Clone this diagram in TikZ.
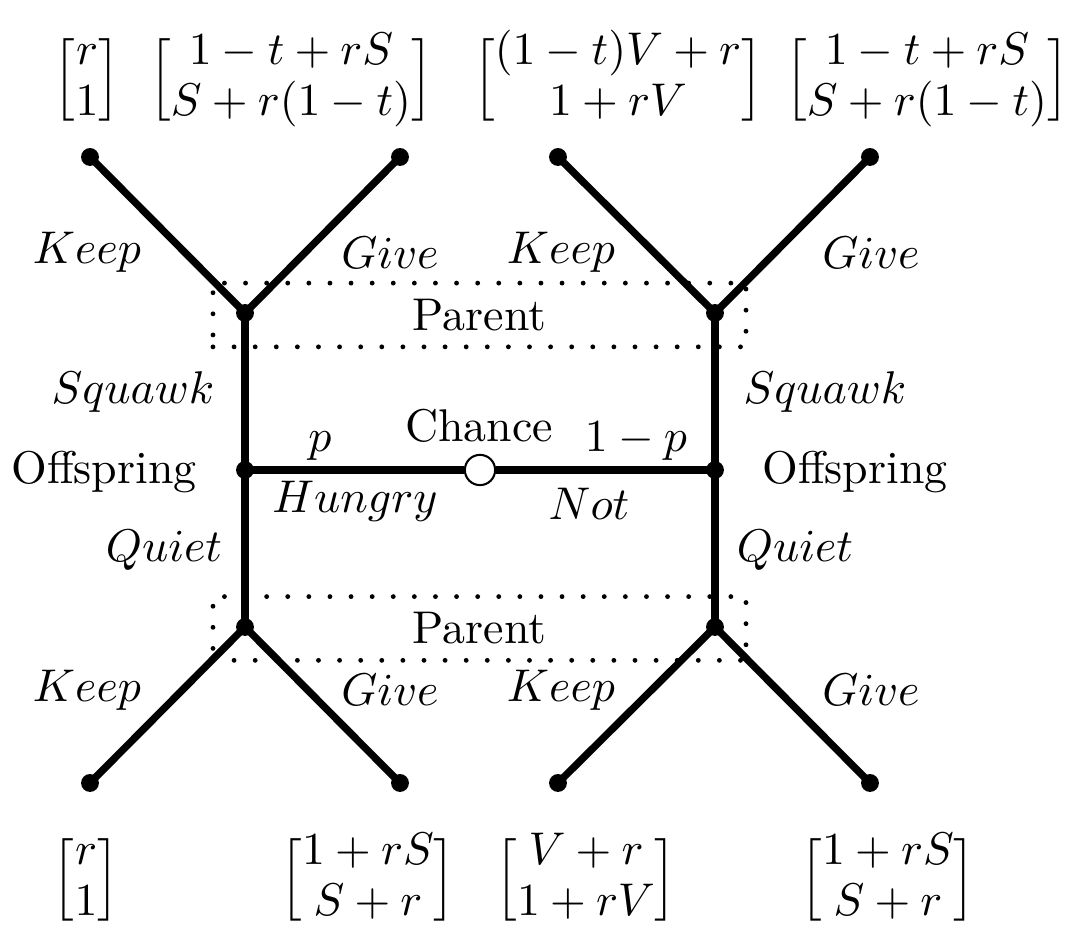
\documentclass[tikz,border=0pt]{standalone}
\usepackage{amsmath}
\newcommand{\payvec}[2]{\Big[\renewcommand{\arraystretch}{0.92}\begin{array}{@{}c@{}}#1\\ #2\end{array}\Big]}
\begin{document}
\begin{tikzpicture}[x=0.218pt,y=-0.218pt,
  edge/.style={line width=1.6pt},
  dec/.style={circle,fill=black,inner sep=0pt,minimum size=3.9pt},
  chance/.style={circle,draw,fill=white,line width=0.45pt,inner sep=0pt,minimum size=6.6pt},
  lbl/.style={anchor=base,inner sep=0pt},
  info/.style={draw,line width=1.05pt,line cap=round,dash pattern=on 0pt off 4.6pt,
    minimum width=116.2pt,minimum height=13.9pt,inner sep=0pt}
]
\useasboundingbox (0,0) rectangle (1079,930);

% information sets
\node[info] (ptop) at (479.5,315) {Parent};
\node[info] (pbot) at (479.5,628.5) {Parent};

% nodes
\node[chance] (c) at (480,470) {};
\node[dec] (ol) at (245,470) {};
\node[dec] (or) at (715,470) {};
\node[dec] (tl) at (245,313) {};
\node[dec] (tr) at (715,313) {};
\node[dec] (bl) at (245,627) {};
\node[dec] (br) at (715,627) {};
\node[dec] (l1) at (90,157) {};
\node[dec] (l2) at (400,157) {};
\node[dec] (l3) at (558,157) {};
\node[dec] (l4) at (870,157) {};
\node[dec] (l5) at (90,783) {};
\node[dec] (l6) at (400,783) {};
\node[dec] (l7) at (558,783) {};
\node[dec] (l8) at (870,783) {};

% edges
\draw[edge] (c) -- (ol.center);
\draw[edge] (c) -- (or.center);
\draw[edge] (ol.center) -- (tl.center);
\draw[edge] (ol.center) -- (bl.center);
\draw[edge] (or.center) -- (tr.center);
\draw[edge] (or.center) -- (br.center);
\draw[edge] (tl.center) -- (l1.center);
\draw[edge] (tl.center) -- (l2.center);
\draw[edge] (tr.center) -- (l3.center);
\draw[edge] (tr.center) -- (l4.center);
\draw[edge] (bl.center) -- (l5.center);
\draw[edge] (bl.center) -- (l6.center);
\draw[edge] (br.center) -- (l7.center);
\draw[edge] (br.center) -- (l8.center);

% labels
\node[lbl] (k1) at (87,264) {$Keep$};
\node[lbl] (g1) at (390,269) {$Give$};
\node[lbl] (k2) at (561,264) {$Keep$};
\node[lbl] (g2) at (871,269) {$Give$};
\node[lbl] (k3) at (87,702) {$Keep$};
\node[lbl] (g3) at (390,706) {$Give$};
\node[lbl] (k4) at (561,702) {$Keep$};
\node[lbl] (g4) at (871,706) {$Give$};
\node[lbl] (sq1) at (133,404) {$Squawk$};
\node[lbl] (sq2) at (825,404) {$Squawk$};
\node[lbl] (of1) at (104,484) {Offspring};
\node[lbl] (of2) at (855,484) {Offspring};
\node[lbl] (pp) at (320,452) {$p$};
\node[lbl] (ch) at (479,442) {Chance};
\node[lbl] (qp) at (636,452) {$1-p$};
\node[lbl] (hu) at (355,513) {$Hungry$};
\node[lbl] (no) at (589,520) {$Not$};
\node[lbl] (q1) at (164,562) {$Quiet$};
\node[lbl] (q2) at (795,562) {$Quiet$};

% payoffs
\node (m1) at (87,80) {$\payvec{r}{1}$};
\node (m2) at (291,80) {$\payvec{1-t+rS}{S+r(1-t)}$};
\node (m3) at (618,80) {$\payvec{(1-t)V+r}{1+rV}$};
\node (m4) at (927,80) {$\payvec{1-t+rS}{S+r(1-t)}$};
\node (m5) at (86,880) {$\payvec{r}{1}$};
\node (m6) at (368,880) {$\payvec{1+rS}{S+r}$};
\node (m7) at (586,880) {$\payvec{V+r}{1+rV}$};
\node (m8) at (888,880) {$\payvec{1+rS}{S+r}$};
\end{tikzpicture}
\end{document}
